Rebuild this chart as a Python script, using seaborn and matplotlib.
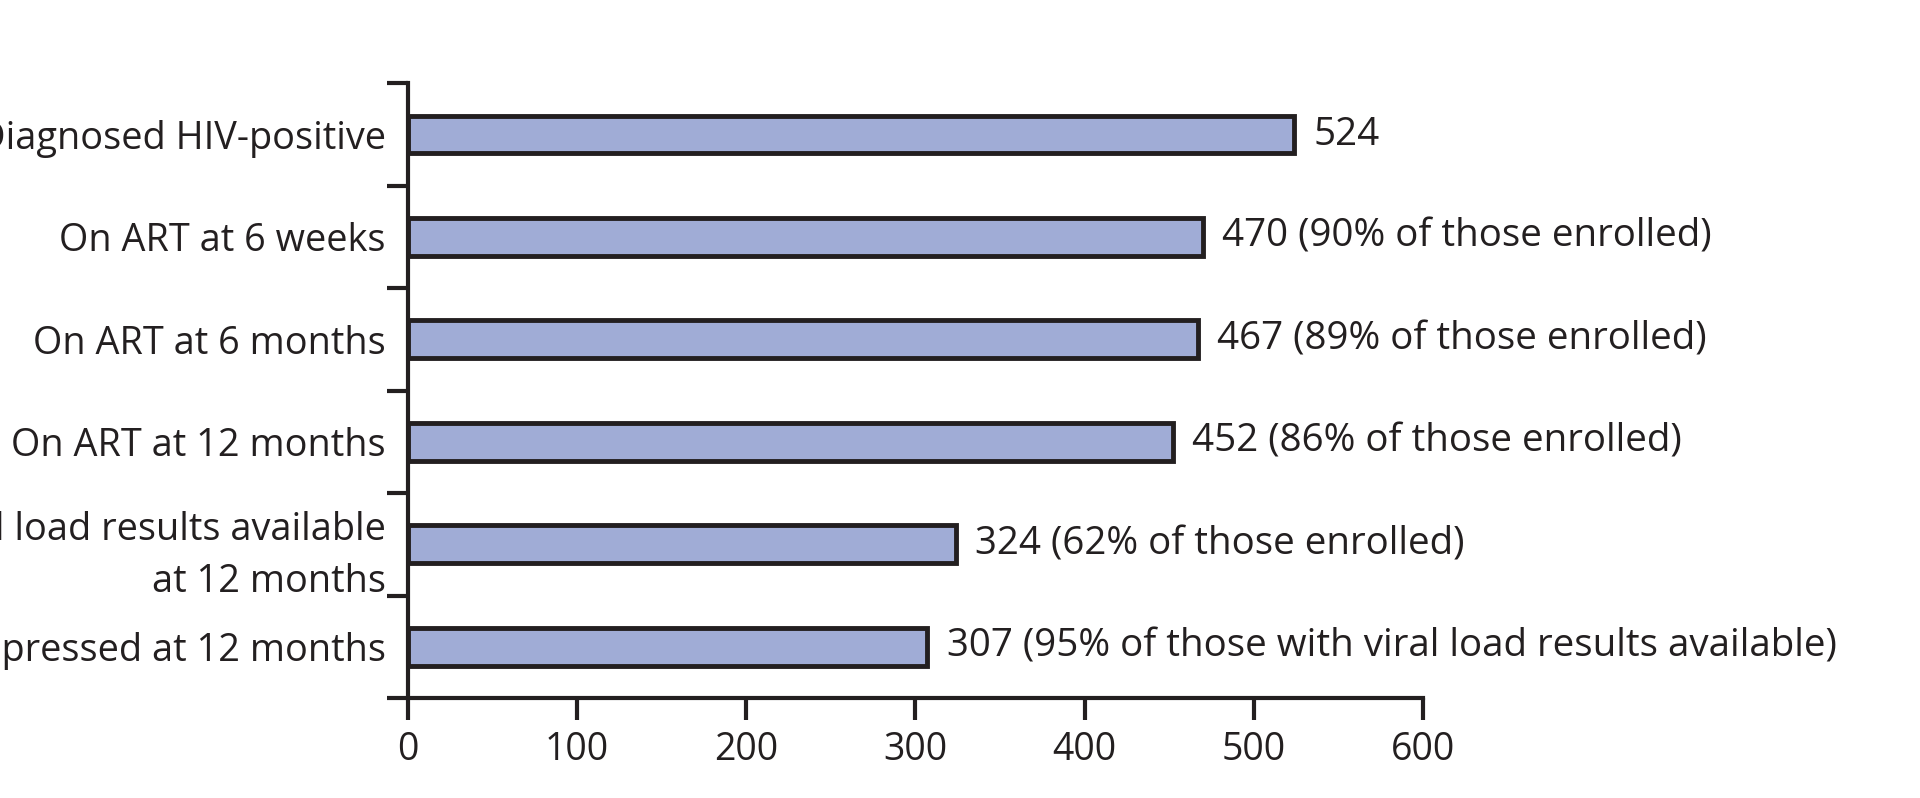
import numpy as np
import pandas as pd
import matplotlib
matplotlib.use("Agg")
import matplotlib.pyplot as plt
import seaborn as sns

stages = [
    "Diagnosed HIV-positive",
    "On ART at 6 weeks",
    "On ART at 6 months",
    "On ART at 12 months",
    "Viral load results available\nat 12 months",
    "Virally suppressed at 12 months",
]
counts = [524, 470, 467, 452, 324, 307]
notes = [
    "",
    " (90% of those enrolled)",
    " (89% of those enrolled)",
    " (86% of those enrolled)",
    " (62% of those enrolled)",
    " (95% of those with viral load results available)",
]
xticks = [0, 100, 200, 300, 400, 500, 600]

df = pd.DataFrame({"stage": stages, "count": counts})

sns.set_style("ticks")
plt.rcParams["font.family"] = ["Open Sans", "DejaVu Sans"]
ink = "#231f20"

fig = plt.figure(figsize=(19.2, 7.98), dpi=100)
ax = fig.add_axes([0.2124, 0.1253, 0.5287, 0.7703])

sns.barplot(data=df, x="count", y="stage", orient="h", color="#a0acd6",
            saturation=1, width=0.37, edgecolor=ink, linewidth=3.5, ax=ax)

# value labels to the right of each bar
for i, (c, n) in enumerate(zip(counts, notes)):
    ax.annotate(f"{c}{n}", xy=(c, i), xytext=(14, 0), textcoords="offset points",
                ha="left", va="center", fontsize=27.7, color=ink)

ax.set_xlim(0, 600)
ax.set_ylim(5.5, -0.5)
ax.set_xticks(xticks)
ax.set_xticklabels([str(t) for t in xticks])

# labels at bar centres, tick marks at the boundaries
ax.set_yticks(range(len(stages)))
ax.set_yticklabels(stages, linespacing=1.5)
ax.set_yticks(np.arange(-0.5, len(stages), 1.0), minor=True)
ax.tick_params(axis="y", which="major", length=0, pad=16, labelsize=27.3, labelcolor=ink)
ax.tick_params(axis="y", which="minor", length=15, width=3, color=ink)
ax.tick_params(axis="x", length=16, width=3, pad=8, labelsize=27,
               color=ink, labelcolor=ink)

ax.set_xlabel("")
ax.set_ylabel("")
sns.despine(ax=ax)
for s in ["left", "bottom"]:
    ax.spines[s].set_linewidth(3)
    ax.spines[s].set_color(ink)

fig.savefig("out.png", dpi=100)
